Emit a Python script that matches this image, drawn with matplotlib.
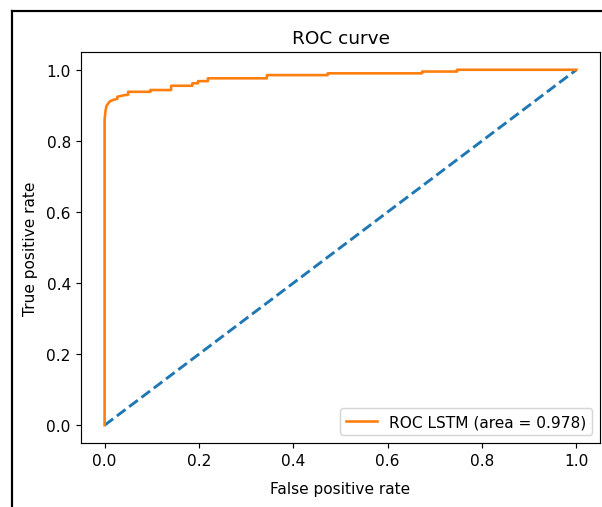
import matplotlib
matplotlib.use("Agg")
import matplotlib.pyplot as plt
from matplotlib.lines import Line2D

# ROC curve corner points
fpr = [0.000, 0.000, 0.002, 0.004, 0.008, 0.012, 0.020, 0.027, 0.027, 0.040, 0.050, 0.050,
       0.097, 0.097, 0.141, 0.141, 0.186, 0.186, 0.198, 0.198, 0.219, 0.219, 0.344, 0.344,
       0.473, 0.473, 0.673, 0.673, 0.747, 0.747, 1.000]
tpr = [0.000, 0.860, 0.885, 0.898, 0.906, 0.912, 0.916, 0.918, 0.924, 0.928, 0.930, 0.938,
       0.938, 0.943, 0.943, 0.955, 0.955, 0.962, 0.962, 0.968, 0.968, 0.976, 0.976, 0.985,
       0.985, 0.990, 0.990, 0.995, 0.995, 1.000, 1.000]
diag = [0, 1]
auc_label = "ROC LSTM (area = 0.978)"

plt.rcParams['font.size'] = 10.6

W, H = 602, 508
dpi = 104.5
fig = plt.figure(figsize=(W / dpi, H / dpi), dpi=dpi)
ax = fig.add_axes([81 / W, 1 - 444 / H, (600 - 81) / W, (444 - 53) / H])

ax.plot(diag, diag, '--', color='C0', lw=2)
ax.plot(fpr, tpr, color='C1', lw=1.8, label=auc_label)
ax.set_xlabel('False positive rate', labelpad=9)
ax.set_ylabel('True positive rate', labelpad=6)
ax.set_title('ROC curve', pad=6)
ax.legend(loc='lower right')

# screenshot frame
fig.add_artist(Line2D([12 / W, 12 / W], [0, 1 - 12 / H], color='black', lw=1.5,
                      transform=fig.transFigure))
fig.add_artist(Line2D([12 / W, 1], [1 - 12 / H, 1 - 12 / H], color='black', lw=1.5,
                      transform=fig.transFigure))

fig.savefig('out.png', dpi=dpi)
